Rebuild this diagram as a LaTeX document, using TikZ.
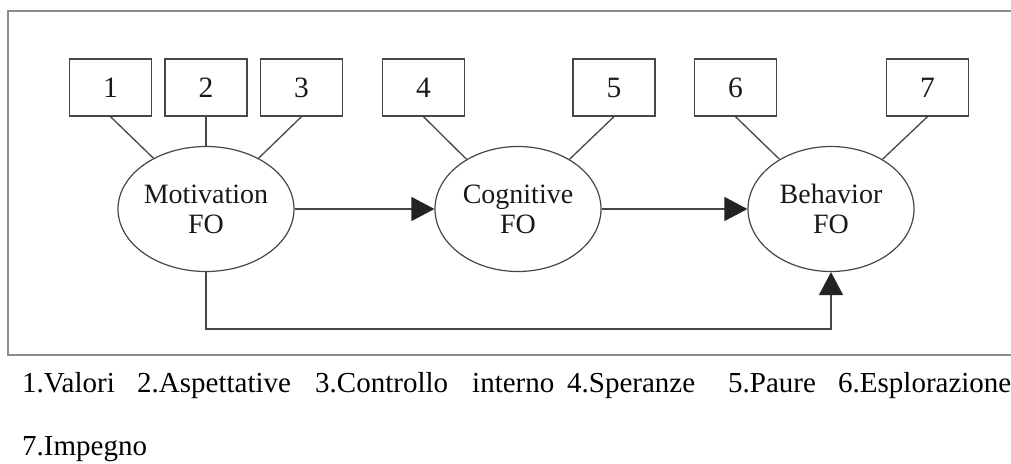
\documentclass[tikz,border=0pt]{standalone}
\usepackage{fontspec}
\setmainfont{Liberation Serif}
\usetikzlibrary{shapes.geometric,arrows.meta}
\definecolor{lncol}{RGB}{70,70,70}
\definecolor{tipcol}{RGB}{35,35,35}
\definecolor{frcol}{RGB}{140,140,140}
\tikzset{
  itembox/.style={draw=lncol,line width=1.3pt,minimum width=82pt,minimum height=57pt,inner sep=0pt,font=\fontsize{29.5}{32}\selectfont,text=black!90},
  factor/.style={ellipse,draw=lncol,line width=1.2pt,minimum width=166pt,minimum height=125pt,inner sep=0pt,align=center,font=\fontsize{28}{30}\selectfont,text=black!90},
  link/.style={draw=lncol,line width=1.3pt},
  arr/.style={draw=lncol,line width=1.3pt,-{Triangle[length=23pt,width=24pt,color=tipcol]}},
  capword/.style={anchor=base west,inner sep=0pt,font=\fontsize{29}{30}\selectfont}
}
\begin{document}
\begin{tikzpicture}[x=1pt,y=-1pt]
\useasboundingbox (0,0) rectangle (1011,463);
\clip (0,0) rectangle (1011,463);
\draw[frcol,line width=2pt] (8,11) rectangle (1030,355);
% items
\node[itembox] (b1) at (110.5,87.5) {1};
\node[itembox] (b2) at (206,87.5) {2};
\node[itembox] (b3) at (301.5,87.5) {3};
\node[itembox] (b4) at (423.5,87.5) {4};
\node[itembox] (b5) at (614,87.5) {5};
\node[itembox] (b6) at (735.5,87.5) {6};
\node[itembox] (b7) at (927.5,87.5) {7};
% factors
\node[factor] (mot) at (206,209) {Motivation\\FO};
\node[factor] (cog) at (518,209) {Cognitive\\FO};
\node[factor] (beh) at (831,209) {Behavior\\FO};
% loadings
\draw[link] (b1.south) -- (mot.136);
\draw[link] (b2.south) -- (mot.north);
\draw[link] (b3.south) -- (mot.44);
\draw[link] (b4.south) -- (cog.136);
\draw[link] (b5.south) -- (cog.44);
\draw[link] (b6.south) -- (beh.136);
\draw[link] (b7.south) -- (beh.44);
% paths
\draw[arr] (mot.east) -- (cog.west);
\draw[arr] (cog.east) -- (beh.west);
\coordinate (cnr) at (831,329);
\draw[arr] (mot.south) |- (cnr) -- (beh.south);
% caption
\node[capword] (w1) at (22,392) {1.Valori};
\node[capword] (w2) at (137,392) {2.Aspettative};
\node[capword] (w3) at (315,392) {3.Controllo};
\node[capword] (w4) at (472,392) {interno};
\node[capword] (w5) at (567,392) {4.Speranze};
\node[capword] (w6) at (728,392) {5.Paure};
\node[capword] (w7) at (838,392) {6.Esplorazione};
\node[capword] (w8) at (22,455) {7.Impegno};
\end{tikzpicture}
\end{document}
